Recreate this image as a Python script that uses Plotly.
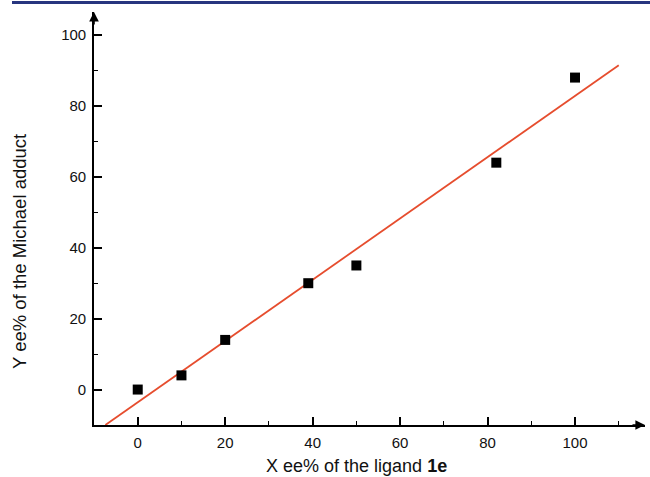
import plotly.graph_objects as go

# Data
ligand_ee = [0, 10, 20, 39, 50, 82, 100]
adduct_ee = [0, 4, 14, 30, 35, 64, 88]

# Linear fit line endpoints
fit_x = [-7.4, 110]
fit_y = [-10, 91.5]

x_ticks = [0, 20, 40, 60, 80, 100]
y_ticks = [0, 20, 40, 60, 80, 100]

W, H = 650, 477
ML, MR, MT, MB = 94, 5, 12, 52
pw = W - ML - MR
ph = H - MT - MB

fig = go.Figure()
fig.add_trace(go.Scatter(x=fit_x, y=fit_y, mode="lines",
                         line=dict(color="#e64d2e", width=1.8),
                         hoverinfo="skip", showlegend=False))
fig.add_trace(go.Scatter(x=ligand_ee, y=adduct_ee, mode="markers",
                         marker=dict(symbol="square", size=10, color="black"),
                         showlegend=False))

font = "Liberation Sans, Arial, sans-serif"
txt = "#111111"
axis_common = dict(
    showgrid=False, zeroline=False, showline=True, linecolor="black", linewidth=1.6,
    ticks="inside", ticklen=8, tickwidth=1.5, tickcolor="black",
    tickfont=dict(family=font, size=15, color=txt),
    ticklabelstandoff=3,
    minor=dict(ticks="inside", ticklen=4, tickwidth=1.2, tickcolor="black", dtick=10, tick0=0),
)

fig.update_layout(
    width=W, height=H,
    margin=dict(l=ML, r=MR, t=MT, b=MB),
    paper_bgcolor="white", plot_bgcolor="white",
    xaxis=dict(range=[-10, 116], tickvals=x_ticks, **axis_common),
    yaxis=dict(range=[-10, 106.5], tickvals=y_ticks, **axis_common),
)

# axis titles
fig.add_annotation(text="X ee% of the ligand <b>1e</b>", xref="paper", yref="paper",
                   x=(356.5 - ML) / pw, y=-(466 - (H - MB)) / ph,
                   xanchor="center", yanchor="middle", showarrow=False,
                   font=dict(family=font, size=18, color=txt))
fig.add_annotation(text="Y ee% of the Michael adduct", xref="paper", yref="paper",
                   x=(19.5 - ML) / pw, y=((H - MB) - 251.5) / ph,
                   xanchor="center", yanchor="middle", textangle=-90, showarrow=False,
                   font=dict(family=font, size=18.5, color=txt))

# axis arrows
fig.add_annotation(x=116, y=-10, xref="x", yref="y", ax=-14, ay=0,
                   showarrow=True, arrowhead=2, arrowsize=1.2, arrowwidth=1.6,
                   arrowcolor="black", text="")
fig.add_annotation(x=-10, y=106.5, xref="x", yref="y", ax=0, ay=14,
                   showarrow=True, arrowhead=2, arrowsize=1.2, arrowwidth=1.6,
                   arrowcolor="black", text="")

# top blue rule
fig.add_shape(type="line", xref="paper", yref="paper",
              x0=(12 - ML) / pw, x1=(W - ML) / pw,
              y0=1 + (MT - 2.5) / ph, y1=1 + (MT - 2.5) / ph,
              line=dict(color="#27357f", width=3))

fig.write_html("out.html", config={"displayModeBar": False},
               post_script="document.body.style.margin='0';document.body.style.overflow='hidden';")
